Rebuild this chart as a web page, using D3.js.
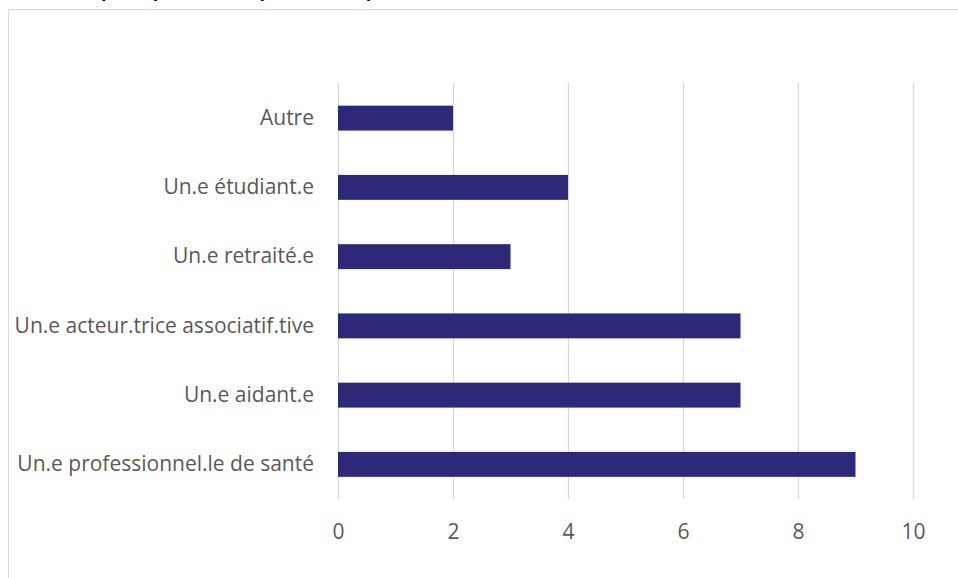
<!DOCTYPE html>
<html><head><meta charset="utf-8">
<script src="https://cdn.jsdelivr.net/npm/d3@7"></script>
<style>html,body{margin:0;padding:0;background:#fff;overflow:hidden}</style>
</head><body>
<svg id="c" width="958" height="578"></svg>
<script>
const categories = ["Autre","Un.e étudiant.e","Un.e retraité.e","Un.e acteur.trice associatif.tive","Un.e aidant.e","Un.e professionnel.le de santé"];
const values = [2,4,3,7,7,9];
const tickValues = [0,2,4,6,8,10];
const titleText = "Vous êtes principalement : (plusieurs réponses)";

const svg = d3.select("#c");
const font = "'Open Sans', 'Segoe UI', sans-serif";

// cut-off title (only descenders visible, as in the reference)
svg.append("text").attr("x", 10).attr("y", -3)
  .attr("font-family", font).attr("font-weight", "bold").attr("font-size", 18)
  .attr("fill", "#000").text(titleText);

// chart border
svg.append("rect").attr("x", 8.5).attr("y", 9.5).attr("width", 970).attr("height", 600)
  .attr("fill", "none").attr("stroke", "#d9d9d9").attr("stroke-width", 1);

const x = d3.scaleLinear().domain([0,10]).range([338,913]);
const y = d3.scaleBand().domain(categories).range([83.5,499]).paddingInner(0.64).paddingOuter(0.32);

// gridlines
svg.append("g").selectAll("line").data(tickValues).join("line")
  .attr("x1", d=>Math.round(x(d))+0.5).attr("x2", d=>Math.round(x(d))+0.5)
  .attr("y1", 83).attr("y2", 499)
  .attr("stroke", "#d9d9d9").attr("stroke-width", 1.3);

// bars
svg.append("g").selectAll("rect").data(values).join("rect")
  .attr("x", x(0)).attr("y", (d,i)=>y(categories[i]))
  .attr("width", d=>x(d)-x(0)).attr("height", y.bandwidth())
  .attr("fill", "#2e2878");

// category axis
const yAxis = d3.axisLeft(y).tickSize(0).tickPadding(24);
const gy = svg.append("g").attr("transform", `translate(${x(0)},0)`).call(yAxis);
gy.select(".domain").remove();
gy.selectAll("text").attr("font-family", font).attr("font-size", 21).attr("fill", "#595959");

// value axis
const xAxis = d3.axisBottom(x).tickValues(tickValues).tickSize(0).tickPadding(25.5);
const gx = svg.append("g").attr("transform", `translate(0,499)`).call(xAxis);
gx.select(".domain").remove();
gx.selectAll("text").attr("font-family", font).attr("font-size", 21).attr("fill", "#595959");
</script>
</body></html>
